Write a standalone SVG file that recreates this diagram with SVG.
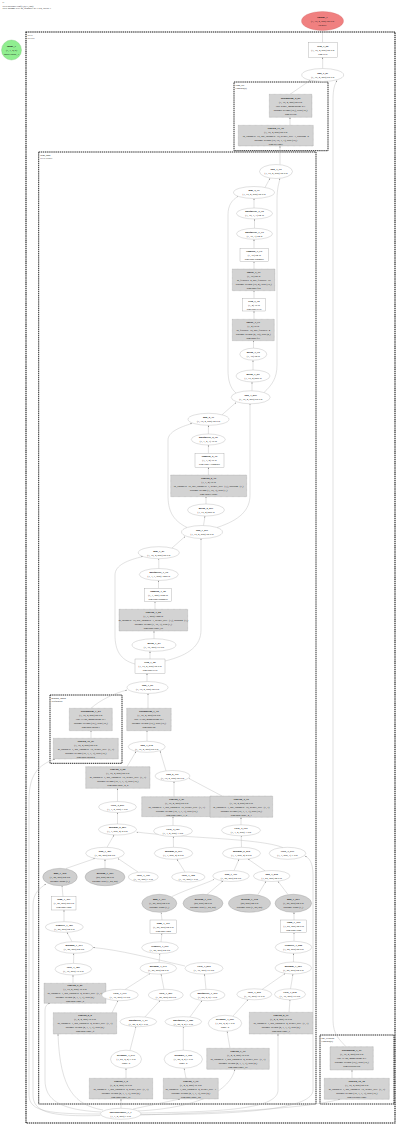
<svg xmlns="http://www.w3.org/2000/svg" width="400" height="1128" viewBox="0 0 400 1128">
<style>
text{font-family:"Liberation Serif","DejaVu Serif",serif;font-size:2.7px;fill:#111;text-anchor:middle}
.b{font-weight:bold}
.h{text-anchor:start;font-size:2.4px}
.cl{text-anchor:start;font-size:2.6px}
.e{fill:#fff;stroke:#999;stroke-width:0.3}
.r{fill:#fff;stroke:#888;stroke-width:0.3}
.g{fill:#d3d3d3;stroke:#777;stroke-width:0.3;stroke-dasharray:0.8,0.4}
.ge{fill:#cfcfcf;stroke:#888;stroke-width:0.3}
.c{fill:none;stroke:#111;stroke-width:0.9;stroke-dasharray:1.4,0.7}
.c2{fill:none;stroke:#111;stroke-width:1.1;stroke-dasharray:1.4,0.7}
#edges path{fill:none;stroke:#aaa;stroke-width:0.35;marker-end:url(#a)}
</style>
<defs>
<marker id="a" viewBox="0 0 4 3" refX="4" refY="1.5" markerWidth="1.6" markerHeight="1.2" markerUnits="userSpaceOnUse" orient="auto"><path d="M0,0L4,1.5L0,3z" fill="#777"/></marker>
</defs>
<rect width="400" height="1128" fill="#fff"/>
<text class="h" x="2.5" y="3.2">G</text>
<text class="h" x="2.5" y="6.7">SVD-presence-tcnf(1,2,0.1,128)</text>
<text class="h" x="2.5" y="9.4">SNN params: 0.01 M, trainable: 21.7 KB, layers: 1</text>

<g id="clusters">
<rect class="c2" x="26" y="32" width="369" height="1091"/>
<text class="cl" x="27.5" y="35.5">SVN</text><text class="cl" x="27.5" y="38.6">SVNet</text>
<rect class="c" x="234" y="82" width="94" height="68.7"/>
<text class="cl" x="235.5" y="85.5">cbm_act</text><text class="cl" x="235.5" y="88.6">Conv2d(a)</text>
<rect class="c" x="38.7" y="152" width="277.3" height="952"/>
<text class="cl" x="40.2" y="155.5">cbm_pool</text><text class="cl" x="40.2" y="158.6">STN-POOL</text>
<rect class="c" x="50" y="695" width="72" height="68.3"/>
<text class="cl" x="51.5" y="698.5">group2_down</text><text class="cl" x="51.5" y="701.6">Sequential</text>
<rect class="c" x="320" y="1035" width="74" height="69"/>
<text class="cl" x="321.5" y="1038.5">bot_residual</text><text class="cl" x="321.5" y="1041.6">Conv2d(b)</text>
</g>

<g id="edges">
<path d="M322.5,42.3L322.5,31"/>
<path d="M322.7,68.5L322.7,57.3"/>
<path d="M290,94.3L310,80.5"/>
<path d="M290,125.3L290,117.3"/>
<path d="M280,164.6L280,146"/>
<path d="M346,1046.7C340,1040 333,1035 333,1020L333,100C333,88 335,84 337,80.5"/>
<path d="M352,1078.3L352,1070"/>
<path d="M140,1115C200,1113 300,1110 340,1099.3"/>
<path d="M254,208L254,198.5"/>
<path d="M254.5,228.3L254.5,219"/>
<path d="M254,248.3L254,239.3"/>
<path d="M254,269L254,261.7"/>
<path d="M254,298.3L254,290.7"/>
<path d="M254,319.3L254,311"/>
<path d="M253.5,348.2L253.5,340.7"/>
<path d="M253,370L253,360.2"/>
<path d="M252,390.8L252,382"/>
<path d="M265,187.5L270,178.3"/>
<path d="M264,392.5C272,385 277,378 277,365L277,200C277,188 279,183 280,178.5"/>
<path d="M236,393C230,388 228,380 228,370L228,215C228,205 232,200 238,196.5"/>
<path d="M208.4,433.9L208.4,425.3"/>
<path d="M208.4,453.3L208.4,445"/>
<path d="M208.4,475L208.4,467.3"/>
<path d="M206,504L206,496.7"/>
<path d="M203.5,525.5L205,516"/>
<path d="M222,414.8L236,402.5"/>
<path d="M217,527.5C240,520 250,510 250,495L250,403.8"/>
<path d="M187,527.5C172,520 168,510 168,495L168,440C168,432 180,427 192,423.5"/>
<path d="M158.8,568.5L158.8,558.7"/>
<path d="M158.5,588.3L158.5,580.5"/>
<path d="M155,609.3L155,601.7"/>
<path d="M154,638.7L154,631"/>
<path d="M150,659L150,651.3"/>
<path d="M147,681.5L147,673.3"/>
<path d="M172,548L185,536.5"/>
<path d="M165,661C190,655 201,645 201,630L201,538.5"/>
<path d="M135,664C120,660 115,650 115,635L115,575C115,565 128,560 143,556.5"/>
<path d="M91,708.3C100,700 115,693 127,690"/>
<path d="M148,708.3L148,693.5"/>
<path d="M91,738.3L91,730.7"/>
<path d="M147,741.3L147,730.7"/>
<path d="M100.5,1114C50,1114 29,1112 29,1095L29,800C29,775 38,765 55,759"/>
<path d="M127,766.7L136,751.5"/>
<path d="M166,770.8L160,751"/>
<path d="M174,796.7L174,781.5"/>
<path d="M222,796L189,778.5"/>
<path d="M117.5,801.5L117.5,788.3"/>
<path d="M117.5,824L117.5,812.5"/>
<path d="M173,825.5L173,816.7"/>
<path d="M241,824.8L241,817.3"/>
<path d="M173.5,847.3L173.3,836.5"/>
<path d="M241.5,847.3L241.2,835.8"/>
<path d="M107,847.3L114,835"/>
<path d="M283,847.6C260,838 180,838 136.5,832"/>
<path d="M234,870.6L239,859.3"/>
<path d="M265,870.8L248,859"/>
<path d="M258,894.5L266,881.3"/>
<path d="M288,894.5L278,881.3"/>
<path d="M207,894.5L223,881"/>
<path d="M172,896.5C190,888 205,884 214,879.5"/>
<path d="M66,868.5L95,858.5"/>
<path d="M105,868.3L105,859.3"/>
<path d="M138,872L118,858.5"/>
<path d="M185,872L177,859.3"/>
<path d="M63,896.7L62,885.7"/>
<path d="M64,921.7L64,910"/>
<path d="M72,941.7L67,932.3"/>
<path d="M73.5,963.4L73.8,953.3"/>
<path d="M73,983.3L73,975"/>
<path d="M162,920L161,912.3"/>
<path d="M161,942L162,933.3"/>
<path d="M159,962.5L160,953.5"/>
<path d="M125,989.5L150,973.5"/>
<path d="M164,989.3L161,974"/>
<path d="M294,920L294,912.3"/>
<path d="M294,941.3L294,932.7"/>
<path d="M293.5,962L293.5,953.3"/>
<path d="M290.5,988.8L293,974"/>
<path d="M262,989.5L285,973.5"/>
<path d="M206,989.3L204.5,974"/>
<path d="M185,966C150,958 120,950 93,947.5"/>
<path d="M112,1012.7L118,1000.7"/>
<path d="M145,1016.9L160,1000.5"/>
<path d="M190,1016.9L202,1000.5"/>
<path d="M233,1016L248,999.5"/>
<path d="M289,1012.3L290,999.8"/>
<path d="M130,1050.3L136,1026.7"/>
<path d="M183.3,1050.2L183.3,1026.7"/>
<path d="M230,1048.3L227,1031.3"/>
<path d="M126,1078.3L126,1068.2"/>
<path d="M186,1078.3L184,1068.2"/>
<path d="M121,1108.3L121,1099"/>
<path d="M133,1109L180,1099"/>
<path d="M138,1111C200,1108 230,1090 235,1069.3"/>
<path d="M140,1113C230,1112 278,1108 278,1090L278,1034"/>
<path d="M101,1112C60,1110 45,1100 45,1080L45,1010C45,1006 47,1004 50,1003.3"/>
<path d="M103,1110C75,1105 60,1090 58,1034"/>
<path d="M100.5,1115.5C50,1117 33,1112 33,1095L33,905C33,893 40,888 46,884"/>
<path d="M141,1114.5C250,1115 313,1108 313,1090L313,875C313,862 309,858 305,856"/>
</g>

<g id="input_1"><circle cx="11.5" cy="50" r="10" fill="#90ee90" stroke="#6b6" stroke-width="0.3"/>
<text><tspan class="b" x="11.5" y="46.95">input_1</tspan><tspan x="11.5" y="50.95">(1, 1, 4, 8)</tspan><tspan x="11.5" y="54.95">shape:input_1</tspan></text></g>

<g id="output_1"><ellipse cx="322.5" cy="21" rx="21" ry="9.5" fill="#f08080" stroke="#c66" stroke-width="0.3"/>
<text><tspan class="b" x="322.5" y="17.95">output_1</tspan><tspan x="322.5" y="21.95">(1, 16, 4, 255) 62 KB</tspan><tspan x="322.5" y="25.95">Identity</tspan></text></g>

<g id="relu_3_66"><rect class="r" x="308.3" y="42.3" width="29" height="15"/>
<text><tspan class="b" x="322.8" y="46.75">relu_3_66</tspan><tspan x="322.8" y="50.75">(1, 16, 4, 255) 62 KB</tspan><tspan x="322.8" y="54.75">dim.relu</tspan></text></g>

<g id="add_4_81"><ellipse class="e" cx="322.7" cy="75" rx="21" ry="6.5"/>
<text><tspan class="b" x="322.7" y="73.95">add_4_81</tspan><tspan x="322.7" y="77.95">(1, 16, 4, 255) 62 KB</tspan></text></g>

<g id="batchnorm_2_80"><rect class="g" x="269.3" y="94.3" width="42.7" height="23"/>
<text><tspan class="b" x="290.6" y="98.75">batchnorm_2_80</tspan><tspan x="290.6" y="102.75">(1, 16, 4, 255) 62 KB</tspan><tspan x="290.6" y="106.75">eps: 0.001, momentum: 0.1</tspan><tspan x="290.6" y="110.75">params: weight (16,), bias (16,)</tspan><tspan x="290.6" y="114.75">dim.act.bn</tspan></text></g>

<g id="conv2d_11_79"><rect class="g" x="238.3" y="125.3" width="75" height="20.7"/>
<text><tspan class="b" x="275.8" y="128.6">conv2d_11_79</tspan><tspan x="275.8" y="132.6">(1, 16, 4, 255) 62 KB</tspan><tspan x="275.8" y="136.6">in_channels=16, out_channels=16, kernel_size=1, padding=0</tspan><tspan x="275.8" y="140.6">params: weight (16, 16, 1, 1), bias (16,)</tspan><tspan x="275.8" y="144.6">dim.act.conv</tspan></text></g>

<g id="add_1_79"><ellipse class="e" cx="276" cy="171.5" rx="16.5" ry="7"/>
<text><tspan class="b" x="276" y="170.45">add_1_79</tspan><tspan x="276" y="174.45">(1, 16, 4, 255) 62 KB</tspan></text></g>

<g id="mul_4_77"><ellipse class="e" cx="254" cy="192.5" rx="20.5" ry="6"/>
<text><tspan class="b" x="254" y="191.45">mul_4_77</tspan><tspan x="254" y="195.45">(1, 16, 4, 255) 62 KB</tspan></text></g>

<g id="unsqueeze_4_76"><ellipse class="e" cx="254.5" cy="213.5" rx="18" ry="5.5"/>
<text><tspan class="b" x="254.5" y="212.45">unsqueeze_4_76</tspan><tspan x="254.5" y="216.45">(1, 16, 1, 1) 64 B</tspan></text></g>

<g id="unsqueeze_3_75"><ellipse class="e" cx="254.5" cy="233.8" rx="18" ry="5.5"/>
<text><tspan class="b" x="254.5" y="232.75">unsqueeze_3_75</tspan><tspan x="254.5" y="236.75">(1, 16, 1) 64 B</tspan></text></g>

<g id="sigmoid_3_74"><rect class="r" x="240" y="248.3" width="28.3" height="13.4"/>
<text><tspan class="b" x="254.2" y="251.95">sigmoid_3_74</tspan><tspan x="254.2" y="255.95">(1, 16) 64 B</tspan><tspan x="254.2" y="259.95">dim.pool.sigmoid</tspan></text></g>

<g id="linear_3_73"><rect class="g" x="232.3" y="269" width="42.7" height="21.7"/>
<text><tspan class="b" x="253.7" y="272.8">linear_3_73</tspan><tspan x="253.7" y="276.8">(1, 16) 64 B</tspan><tspan x="253.7" y="280.8">in_features=4, out_features=16</tspan><tspan x="253.7" y="284.8">params: weight (16, 4), bias (16,)</tspan><tspan x="253.7" y="288.8">dim.pool.fc2</tspan></text></g>

<g id="relu_3_72"><rect class="r" x="242.7" y="298.3" width="22.6" height="12.7"/>
<text><tspan class="b" x="254" y="301.6">relu_3_72</tspan><tspan x="254" y="305.6">(1, 4) 16 B</tspan><tspan x="254" y="309.6">dim.pool.relu</tspan></text></g>

<g id="linear_3_71"><rect class="g" x="232.3" y="319.3" width="42" height="21.4"/>
<text><tspan class="b" x="253.3" y="322.95">linear_3_71</tspan><tspan x="253.3" y="326.95">(1, 4) 16 B</tspan><tspan x="253.3" y="330.95">in_features=16, out_features=4</tspan><tspan x="253.3" y="334.95">params: weight (4, 16), bias (4,)</tspan><tspan x="253.3" y="338.95">dim.pool.fc1</tspan></text></g>

<g id="mean_3_70"><ellipse class="e" cx="253.3" cy="354.2" rx="13.5" ry="6"/>
<text><tspan class="b" x="253.3" y="353.15">mean_3_70</tspan><tspan x="253.3" y="357.15">(1, 16) 64 B</tspan></text></g>

<g id="mean_3_69"><ellipse class="e" cx="253" cy="376" rx="17" ry="6"/>
<text><tspan class="b" x="253" y="374.95">mean_3_69</tspan><tspan x="253" y="378.95">(1, 16, 4) 256 B</tspan></text></g>

<g id="add_1_893"><ellipse class="e" cx="250.7" cy="397.3" rx="19.5" ry="6.5"/>
<text><tspan class="b" x="250.7" y="396.25">add_1_893</tspan><tspan x="250.7" y="400.25">(1, 16, 4, 255) 62 KB</tspan></text></g>

<g id="mul_2_37"><ellipse class="e" cx="208.5" cy="419.3" rx="20.5" ry="6"/>
<text><tspan class="b" x="208.5" y="418.25">mul_2_37</tspan><tspan x="208.5" y="422.25">(1, 16, 4, 255) 62 KB</tspan></text></g>

<g id="unsqueeze_2_36"><ellipse class="e" cx="208.3" cy="439.5" rx="17" ry="5.5"/>
<text><tspan class="b" x="208.3" y="438.45">unsqueeze_2_36</tspan><tspan x="208.3" y="442.45">(1, 1, 4, 1) 16 B</tspan></text></g>

<g id="sigmoid_2_35"><rect class="r" x="195" y="453.3" width="29" height="14"/>
<text><tspan class="b" x="209.5" y="457.25">sigmoid_2_35</tspan><tspan x="209.5" y="461.25">(1, 1, 4) 16 B</tspan><tspan x="209.5" y="465.25">dim.conv1.sigmoid</tspan></text></g>

<g id="conv2d_2_34"><rect class="g" x="170.7" y="475" width="76" height="21.7"/>
<text><tspan class="b" x="208.7" y="478.8">conv2d_2_34</tspan><tspan x="208.7" y="482.8">(1, 1, 4) 16 B</tspan><tspan x="208.7" y="486.8">in_channels=16, out_channels=1, kernel_size=(3,), padding=(1,)</tspan><tspan x="208.7" y="490.8">params: weight (1, 16, 3), bias (1,)</tspan><tspan x="208.7" y="494.8">dim.conv1.conv</tspan></text></g>

<g id="mean_2_833"><ellipse class="e" cx="206" cy="510" rx="18.5" ry="6"/>
<text><tspan class="b" x="206" y="508.95">mean_2_833</tspan><tspan x="206" y="512.95">(1, 16, 4) 256 B</tspan></text></g>

<g id="add_1_811"><ellipse class="e" cx="202" cy="532" rx="20.5" ry="6.5"/>
<text><tspan class="b" x="202" y="530.95">add_1_811</tspan><tspan x="202" y="534.95">(1, 16, 4, 255) 62 KB</tspan></text></g>

<g id="mul_1_81"><ellipse class="e" cx="158.8" cy="552.7" rx="20.5" ry="6"/>
<text><tspan class="b" x="158.8" y="551.65">mul_1_81</tspan><tspan x="158.8" y="555.65">(1, 16, 4, 255) 62 KB</tspan></text></g>

<g id="unsqueeze_1_30"><ellipse class="e" cx="158.8" cy="574.5" rx="19.5" ry="6"/>
<text><tspan class="b" x="158.8" y="573.45">unsqueeze_1_30</tspan><tspan x="158.8" y="577.45">(1, 1, 1, 255) 1020 B</tspan></text></g>

<g id="sigmoid_1_29"><rect class="r" x="144.3" y="588.3" width="27.4" height="13.4"/>
<text><tspan class="b" x="158" y="591.95">sigmoid_1_29</tspan><tspan x="158" y="595.95">(1, 1, 255) 1020 B</tspan><tspan x="158" y="599.95">dim.pool.sigmoid</tspan></text></g>

<g id="conv2d_1_28"><rect class="g" x="119" y="609.3" width="68.7" height="21.7"/>
<text><tspan class="b" x="153.3" y="613.1">conv2d_1_28</tspan><tspan x="153.3" y="617.1">(1, 1, 255) 1020 B</tspan><tspan x="153.3" y="621.1">in_channels=16, out_channels=1, kernel_size=(3,), padding=(1,)</tspan><tspan x="153.3" y="625.1">params: weight (1, 16, 3), bias (1,)</tspan><tspan x="153.3" y="629.1">dim.pool.conv_sa</tspan></text></g>

<g id="mean_1_27"><ellipse class="e" cx="154" cy="645" rx="22" ry="6.3"/>
<text><tspan class="b" x="154" y="643.95">mean_1_27</tspan><tspan x="154" y="647.95">(1, 16, 255) 16 KB</tspan></text></g>

<g id="relu_1_26"><rect class="r" x="135" y="659" width="30" height="14.3"/>
<text><tspan class="b" x="150" y="663.1">relu_1_26</tspan><tspan x="150" y="667.1">(1, 16, 4, 255) 62 KB</tspan><tspan x="150" y="671.1">dim.pool.relu</tspan></text></g>

<g id="add_1_25"><ellipse class="e" cx="147.5" cy="687.5" rx="20.5" ry="6"/>
<text><tspan class="b" x="147.5" y="686.45">add_1_25</tspan><tspan x="147.5" y="690.45">(1, 16, 4, 255) 62 KB</tspan></text></g>

<g id="batchnorm_1_24"><rect class="g" x="69.3" y="708.3" width="43" height="22.4"/>
<text><tspan class="b" x="90.8" y="712.45">batchnorm_1_24</tspan><tspan x="90.8" y="716.45">(1, 16, 4, 255) 62 KB</tspan><tspan x="90.8" y="720.45">eps: 1e-05, momentum: 0.1</tspan><tspan x="90.8" y="724.45">params: weight (16,), bias (16,)</tspan><tspan x="90.8" y="728.45">dim.pool.down.1</tspan></text></g>

<g id="conv2d_10_23"><rect class="g" x="53.3" y="738.3" width="65" height="20.7"/>
<text><tspan class="b" x="85.8" y="741.6">conv2d_10_23</tspan><tspan x="85.8" y="745.6">(1, 16, 4, 255) 62 KB</tspan><tspan x="85.8" y="749.6">in_channels=1, out_channels=16, kernel_size=(1, 1)</tspan><tspan x="85.8" y="753.6">params: weight (16, 1, 1, 1), bias (16,)</tspan><tspan x="85.8" y="757.6">dim.pool.down.0</tspan></text></g>

<g id="batchnorm_1_34"><rect class="g" x="126.7" y="708.3" width="44.5" height="22.4"/>
<text><tspan class="b" x="148.9" y="712.45">batchnorm_1_34</tspan><tspan x="148.9" y="716.45">(1, 16, 4, 255) 62 KB</tspan><tspan x="148.9" y="720.45">eps: 1e-05, momentum: 0.1</tspan><tspan x="148.9" y="724.45">params: weight (16,), bias (16,)</tspan><tspan x="148.9" y="728.45">dim.pool.bn</tspan></text></g>

<g id="add_1_912"><ellipse class="e" cx="146.7" cy="746.8" rx="18.5" ry="5.5"/>
<text><tspan class="b" x="146.7" y="745.75">add_1_912</tspan><tspan x="146.7" y="749.75">(1, 16, 4, 255) 62 KB</tspan></text></g>

<g id="conv2d_4_28"><rect class="g" x="85.7" y="766.7" width="64.3" height="21.6"/>
<text><tspan class="b" x="117.8" y="770.45">conv2d_4_28</tspan><tspan x="117.8" y="774.45">(1, 16, 4, 255) 62 KB</tspan><tspan x="117.8" y="778.45">in_channels=1, out_channels=16, kernel_size=(1, 1)</tspan><tspan x="117.8" y="782.45">params: weight (16, 1, 1, 1), bias (16,)</tspan><tspan x="117.8" y="786.45">dim.pool.conv_4_2</tspan></text></g>

<g id="add_2_141"><ellipse class="e" cx="172.5" cy="776" rx="17.5" ry="5.5"/>
<text><tspan class="b" x="172.5" y="774.95">add_2_141</tspan><tspan x="172.5" y="778.95">(1, 16, 4, 255) 62 KB</tspan></text></g>

<g id="conv2d_3_27"><rect class="g" x="141.7" y="796.7" width="70" height="20"/>
<text><tspan class="b" x="176.7" y="799.65">conv2d_3_27</tspan><tspan x="176.7" y="803.65">(1, 16, 4, 255) 62 KB</tspan><tspan x="176.7" y="807.65">in_channels=1, out_channels=16, kernel_size=(1, 1)</tspan><tspan x="176.7" y="811.65">params: weight (16, 1, 1, 1), bias (16,)</tspan><tspan x="176.7" y="815.65">dim.pool.conv_3_2</tspan></text></g>

<g id="conv2d_4_30"><rect class="g" x="210" y="796" width="62.7" height="21.3"/>
<text><tspan class="b" x="241.3" y="799.6">conv2d_4_30</tspan><tspan x="241.3" y="803.6">(1, 16, 4, 255) 62 KB</tspan><tspan x="241.3" y="807.6">in_channels=1, out_channels=16, kernel_size=(1, 1)</tspan><tspan x="241.3" y="811.6">params: weight (16, 1, 1, 1), bias (16,)</tspan><tspan x="241.3" y="815.6">dim.pool.conv_4_1</tspan></text></g>

<g id="view_4_853"><ellipse class="e" cx="117.5" cy="807" rx="19" ry="5.5"/>
<text><tspan class="b" x="117.5" y="805.95">view_4_853</tspan><tspan x="117.5" y="809.95">(1, 1, 4, 255) 1 KB</tspan></text></g>

<g id="matmul_2_863"><ellipse class="e" cx="117.5" cy="829.5" rx="19" ry="5.5"/>
<text><tspan class="b" x="117.5" y="828.45">matmul_2_863</tspan><tspan x="117.5" y="832.45">(1, 1, 255, 4) 4 KB</tspan></text></g>

<g id="view_4_361"><ellipse class="e" cx="173" cy="831" rx="19.5" ry="5.5"/>
<text><tspan class="b" x="173" y="829.95">view_4_361</tspan><tspan x="173" y="833.95">(1, 1, 4, 255) 1 KB</tspan></text></g>

<g id="view_4_353"><ellipse class="e" cx="241" cy="830.3" rx="19.5" ry="5.5"/>
<text><tspan class="b" x="241" y="829.25">view_4_353</tspan><tspan x="241" y="833.25">(1, 1, 4, 255) 1 KB</tspan></text></g>

<g id="add_1_463"><ellipse class="e" cx="105" cy="853.3" rx="19.3" ry="6"/>
<text><tspan class="b" x="105" y="852.25">add_1_463</tspan><tspan x="105" y="856.25">(1, 25, 255) 24 KB</tspan></text></g>

<g id="matmul_2_553"><ellipse class="e" cx="173.5" cy="853.3" rx="19.2" ry="6"/>
<text><tspan class="b" x="173.5" y="852.25">matmul_2_553</tspan><tspan x="173.5" y="856.25">(1, 1, 255, 4) 4 KB</tspan></text></g>

<g id="matmul_2_252"><ellipse class="e" cx="241.5" cy="853.3" rx="19" ry="6"/>
<text><tspan class="b" x="241.5" y="852.25">matmul_2_252</tspan><tspan x="241.5" y="856.25">(1, 1, 255, 4) 4 KB</tspan></text></g>

<g id="view_3_073"><ellipse class="e" cx="287.5" cy="853.3" rx="18.3" ry="6"/>
<text><tspan class="b" x="287.5" y="852.25">view_3_073</tspan><tspan x="287.5" y="856.25">(1, 1, 255, 1) 1 KB</tspan></text></g>

<g id="mul_1_452"><ellipse class="ge" cx="60" cy="877" rx="17.3" ry="8.7"/>
<text><tspan class="b" x="60" y="873.95">mul_1_452</tspan><tspan x="60" y="877.95">(1, 25, 255) 24 KB</tspan><tspan x="60" y="881.95">params: alpha (1,)</tspan></text></g>

<g id="getitem_1_443"><ellipse class="ge" cx="105" cy="877" rx="20" ry="8.7"/>
<text><tspan class="b" x="105" y="873.95">getitem_1_443</tspan><tspan x="105" y="877.95">(25, 255) 24 KB</tspan><tspan x="105" y="881.95">params: bias (1, 25, 25)</tspan></text></g>

<g id="view_1_343"><ellipse class="e" cx="143.3" cy="877" rx="15" ry="5"/>
<text><tspan class="b" x="143.3" y="875.95">view_1_343</tspan><tspan x="143.3" y="879.95">(1, 16, 255) 1 KB</tspan></text></g>

<g id="view_1_362"><ellipse class="e" cx="188.3" cy="877" rx="16.7" ry="5"/>
<text><tspan class="b" x="188.3" y="875.95">view_1_362</tspan><tspan x="188.3" y="879.95">(1, 16, 255) 1 KB</tspan></text></g>

<g id="add_1_151"><ellipse class="e" cx="231" cy="876" rx="18.3" ry="5.5"/>
<text><tspan class="b" x="231" y="874.95">add_1_151</tspan><tspan x="231" y="878.95">(1, 25, 255) 24 KB</tspan></text></g>

<g id="add_1_252"><ellipse class="e" cx="271.7" cy="876" rx="18.3" ry="5.5"/>
<text><tspan class="b" x="271.7" y="874.95">add_1_252</tspan><tspan x="271.7" y="878.95">(1, 25, 255) 24 KB</tspan></text></g>

<g id="tanh_1_451"><rect class="r" x="51.7" y="896.7" width="24.3" height="13.3"/>
<text><tspan class="b" x="63.8" y="900.3">tanh_1_451</tspan><tspan x="63.8" y="904.3">(1, 25, 255) 24 KB</tspan><tspan x="63.8" y="908.3">dim.pool.tanh</tspan></text></g>

<g id="mul_1_131"><ellipse class="ge" cx="159.3" cy="903.3" rx="17.5" ry="9"/>
<text><tspan class="b" x="159.3" y="900.25">mul_1_131</tspan><tspan x="159.3" y="904.25">(1, 25, 255) 24 KB</tspan><tspan x="159.3" y="908.25">params: alpha (1,)</tspan></text></g>

<g id="getitem_1_175"><ellipse class="ge" cx="203" cy="903.3" rx="20" ry="9"/>
<text><tspan class="b" x="203" y="900.25">getitem_1_175</tspan><tspan x="203" y="904.25">(25, 255) 24 KB</tspan><tspan x="203" y="908.25">params: bias (1, 25, 25)</tspan></text></g>

<g id="getitem_1_178"><ellipse class="ge" cx="249.5" cy="903.3" rx="21" ry="9"/>
<text><tspan class="b" x="249.5" y="900.25">getitem_1_178</tspan><tspan x="249.5" y="904.25">(25, 255) 24 KB</tspan><tspan x="249.5" y="908.25">params: bias (1, 25, 25)</tspan></text></g>

<g id="mul_1_093"><ellipse class="ge" cx="293.3" cy="903.3" rx="18.3" ry="9"/>
<text><tspan class="b" x="293.3" y="900.25">mul_1_093</tspan><tspan x="293.3" y="904.25">(1, 25, 255) 24 KB</tspan><tspan x="293.3" y="908.25">params: alpha (1,)</tspan></text></g>

<g id="transfer_1_463"><ellipse class="e" cx="64.3" cy="927" rx="19" ry="5.3"/>
<text><tspan class="b" x="64.3" y="925.95">transfer_1_463</tspan><tspan x="64.3" y="929.95">(1, 25, 255) 24 KB</tspan></text></g>

<g id="tanh_1_431"><rect class="r" x="150" y="920" width="26.7" height="13.3"/>
<text><tspan class="b" x="163.3" y="923.6">tanh_1_431</tspan><tspan x="163.3" y="927.6">(1, 25, 255) 24 KB</tspan><tspan x="163.3" y="931.6">dim.pool.tanh</tspan></text></g>

<g id="tanh_1_454"><rect class="r" x="280.7" y="920" width="26" height="12.7"/>
<text><tspan class="b" x="293.7" y="923.3">tanh_1_454</tspan><tspan x="293.7" y="927.3">(1, 25, 255) 24 KB</tspan><tspan x="293.7" y="931.3">dim.pool.tanh</tspan></text></g>

<g id="matmul_1_413"><ellipse class="e" cx="74" cy="947.5" rx="19" ry="5.8"/>
<text><tspan class="b" x="74" y="946.45">matmul_1_413</tspan><tspan x="74" y="950.45">(1, 25, 255) 24 KB</tspan></text></g>

<g id="transfer_1_551"><ellipse class="e" cx="160" cy="947.7" rx="18.3" ry="5.8"/>
<text><tspan class="b" x="160" y="946.65">transfer_1_551</tspan><tspan x="160" y="950.65">(1, 25, 255) 24 KB</tspan></text></g>

<g id="transfer_1_282"><ellipse class="e" cx="293.5" cy="947.3" rx="18.3" ry="6"/>
<text><tspan class="b" x="293.5" y="946.25">transfer_1_282</tspan><tspan x="293.5" y="950.25">(1, 25, 255) 24 KB</tspan></text></g>

<g id="view_1_483"><ellipse class="e" cx="73.3" cy="969.2" rx="18.3" ry="5.8"/>
<text><tspan class="b" x="73.3" y="968.15">view_1_483</tspan><tspan x="73.3" y="972.15">(1, 16, 255) 16 KB</tspan></text></g>

<g id="matmul_1_511"><ellipse class="e" cx="158.3" cy="968.3" rx="18.3" ry="5.8"/>
<text><tspan class="b" x="158.3" y="967.25">matmul_1_511</tspan><tspan x="158.3" y="971.25">(1, 25, 255) 24 KB</tspan></text></g>

<g id="view_1_804"><ellipse class="e" cx="204" cy="968.3" rx="19" ry="5.8"/>
<text><tspan class="b" x="204" y="967.25">view_1_804</tspan><tspan x="204" y="971.25">(1, 16, 255) 16 KB</tspan></text></g>

<g id="matmul_1_063"><ellipse class="e" cx="293.3" cy="968" rx="18.3" ry="6"/>
<text><tspan class="b" x="293.3" y="966.95">matmul_1_063</tspan><tspan x="293.3" y="970.95">(1, 25, 255) 24 KB</tspan></text></g>

<g id="conv2d_9_29"><rect class="g" x="44" y="983.3" width="62" height="20"/>
<text><tspan class="b" x="75" y="986.25">conv2d_9_29</tspan><tspan x="75" y="990.25">(1, 16, 4, 255) 16 KB</tspan><tspan x="75" y="994.25">in_channels=1, out_channels=4, kernel_size=(1, 1)</tspan><tspan x="75" y="998.25">params: weight (4, 1, 1, 1), bias (4,)</tspan><tspan x="75" y="1002.25">dim.pool.conv_k</tspan></text></g>

<g id="view_1_771"><ellipse class="e" cx="120" cy="995" rx="18.3" ry="5.7"/>
<text><tspan class="b" x="120" y="993.95">view_1_771</tspan><tspan x="120" y="997.95">(1, 16, 255) 16 KB</tspan></text></g>

<g id="view_1_851"><ellipse class="e" cx="165.8" cy="995" rx="17.5" ry="5.7"/>
<text><tspan class="b" x="165.8" y="993.95">view_1_851</tspan><tspan x="165.8" y="997.95">(1, 25, 255) 24 KB</tspan></text></g>

<g id="unsqueeze_1_074"><ellipse class="e" cx="207.5" cy="995" rx="17.5" ry="5.7"/>
<text><tspan class="b" x="207.5" y="993.95">unsqueeze_1_074</tspan><tspan x="207.5" y="997.95">(1, 25, 4, 4) 1 KB</tspan></text></g>

<g id="view_1_810"><ellipse class="e" cx="254.3" cy="994.3" rx="17.5" ry="5.5"/>
<text><tspan class="b" x="254.3" y="993.25">view_1_810</tspan><tspan x="254.3" y="997.25">(1, 16, 255) 16 KB</tspan></text></g>

<g id="view_1_818"><ellipse class="e" cx="290" cy="994.3" rx="15.5" ry="5.5"/>
<text><tspan class="b" x="290" y="993.25">view_1_818</tspan><tspan x="290" y="997.25">(1, 16, 255) 16 KB</tspan></text></g>

<g id="conv2d_8_8"><rect class="g" x="53.3" y="1012.7" width="63.4" height="21.3"/>
<text><tspan class="b" x="85" y="1016.3">conv2d_8_8</tspan><tspan x="85" y="1020.3">(1, 4, 4, 255) 16 KB</tspan><tspan x="85" y="1024.3">in_channels=1, out_channels=4, kernel_size=(1, 1)</tspan><tspan x="85" y="1028.3">params: weight (4, 1, 1, 1), bias (4,)</tspan><tspan x="85" y="1032.3">dim.pool.conv_q</tspan></text></g>

<g id="unsqueeze_1_41"><ellipse class="e" cx="138.3" cy="1021.7" rx="18.3" ry="5"/>
<text><tspan class="b" x="138.3" y="1020.65">unsqueeze_1_41</tspan><tspan x="138.3" y="1024.65">(1, 25, 4, 4) 1 KB</tspan></text></g>

<g id="unsqueeze_1_089"><ellipse class="e" cx="183.3" cy="1021.7" rx="18.3" ry="5"/>
<text><tspan class="b" x="183.3" y="1020.65">unsqueeze_1_089</tspan><tspan x="183.3" y="1024.65">(1, 25, 4, 4) 1 KB</tspan></text></g>

<g id="permute_1_963"><ellipse class="e" cx="225" cy="1023.3" rx="16.7" ry="8"/>
<text><tspan class="b" x="225" y="1020.25">permute_1_963</tspan><tspan x="225" y="1024.25">(1, 25, 4, 4) 1 KB</tspan><tspan x="225" y="1028.25">dims=0</tspan></text></g>

<g id="conv2d_8_15"><rect class="g" x="249.3" y="1012.3" width="63.4" height="21.7"/>
<text><tspan class="b" x="281" y="1016.1">conv2d_8_15</tspan><tspan x="281" y="1020.1">(1, 4, 4, 255) 16 KB</tspan><tspan x="281" y="1024.1">in_channels=1, out_channels=4, kernel_size=(1, 1)</tspan><tspan x="281" y="1028.1">params: weight (4, 1, 1, 1), bias (4,)</tspan><tspan x="281" y="1032.1">dim.pool.conv_v</tspan></text></g>

<g id="permute_1_913"><ellipse class="e" cx="126" cy="1059.2" rx="15.5" ry="9"/>
<text><tspan class="b" x="126" y="1056.15">permute_1_913</tspan><tspan x="126" y="1060.15">(1, 25, 4, 4) 1 KB</tspan><tspan x="126" y="1064.15">dims=0</tspan></text></g>

<g id="permute_1_950"><ellipse class="e" cx="183.3" cy="1059.2" rx="19.2" ry="9"/>
<text><tspan class="b" x="183.3" y="1056.15">permute_1_950</tspan><tspan x="183.3" y="1060.15">(1, 25, 4, 4) 1 KB</tspan><tspan x="183.3" y="1064.15">dims=0</tspan></text></g>

<g id="conv2d_7_14"><rect class="g" x="206.7" y="1048.3" width="62.6" height="21"/>
<text><tspan class="b" x="238" y="1051.75">conv2d_7_14</tspan><tspan x="238" y="1055.75">(1, 4, 4, 255) 16 KB</tspan><tspan x="238" y="1059.75">in_channels=1, out_channels=4, kernel_size=(1, 1)</tspan><tspan x="238" y="1063.75">params: weight (4, 1, 1, 1), bias (4,)</tspan><tspan x="238" y="1067.75">dim.pool.conv_a3</tspan></text></g>

<g id="conv2d_1_2"><rect class="g" x="89.3" y="1078.3" width="63.4" height="20.7"/>
<text><tspan class="b" x="121" y="1081.6">conv2d_1_2</tspan><tspan x="121" y="1085.6">(1, 4, 4, 255) 16 KB</tspan><tspan x="121" y="1089.6">in_channels=1, out_channels=4, kernel_size=(1, 1)</tspan><tspan x="121" y="1093.6">params: weight (4, 1, 1, 1), bias (4,)</tspan><tspan x="121" y="1097.6">dim.pool.conv_a1</tspan></text></g>

<g id="conv2d_1_30"><rect class="g" x="163.3" y="1078.3" width="55" height="20.7"/>
<text><tspan class="b" x="190.8" y="1081.6">conv2d_1_30</tspan><tspan x="190.8" y="1085.6">(1, 4, 4, 255) 16 KB</tspan><tspan x="190.8" y="1089.6">in_channels=1, out_channels=4, kernel_size=1</tspan><tspan x="190.8" y="1093.6">params: weight (4, 1, 1, 1), bias (4,)</tspan><tspan x="190.8" y="1097.6">dim.pool.conv_a2</tspan></text></g>

<g id="batchnorm_3_43"><rect class="g" x="330" y="1046.7" width="43.3" height="23.3"/>
<text><tspan class="b" x="351.7" y="1051.3">batchnorm_3_43</tspan><tspan x="351.7" y="1055.3">(1, 16, 4, 255) 62 KB</tspan><tspan x="351.7" y="1059.3">eps: 1e-05, momentum: 0.1</tspan><tspan x="351.7" y="1063.3">params: weight (16,), bias (16,)</tspan><tspan x="351.7" y="1067.3">dim.residual.bn</tspan></text></g>

<g id="conv2d_12_42"><rect class="g" x="324.3" y="1078.3" width="65" height="21"/>
<text><tspan class="b" x="356.8" y="1081.75">conv2d_12_42</tspan><tspan x="356.8" y="1085.75">(1, 16, 4, 255) 62 KB</tspan><tspan x="356.8" y="1089.75">in_channels=1, out_channels=16, kernel_size=(1, 1)</tspan><tspan x="356.8" y="1093.75">params: weight (16, 1, 1, 1), bias (16,)</tspan><tspan x="356.8" y="1097.75">dim.residual.conv</tspan></text></g>

<g id="internalsource_1_1"><ellipse class="e" cx="120.7" cy="1113.8" rx="20.3" ry="5.5"/>
<text><tspan class="b" x="120.7" y="1112.75">internalsource_1_1</tspan><tspan x="120.7" y="1116.75">(1, 1, 4, 255) 1 KB</tspan></text></g>
</svg>
